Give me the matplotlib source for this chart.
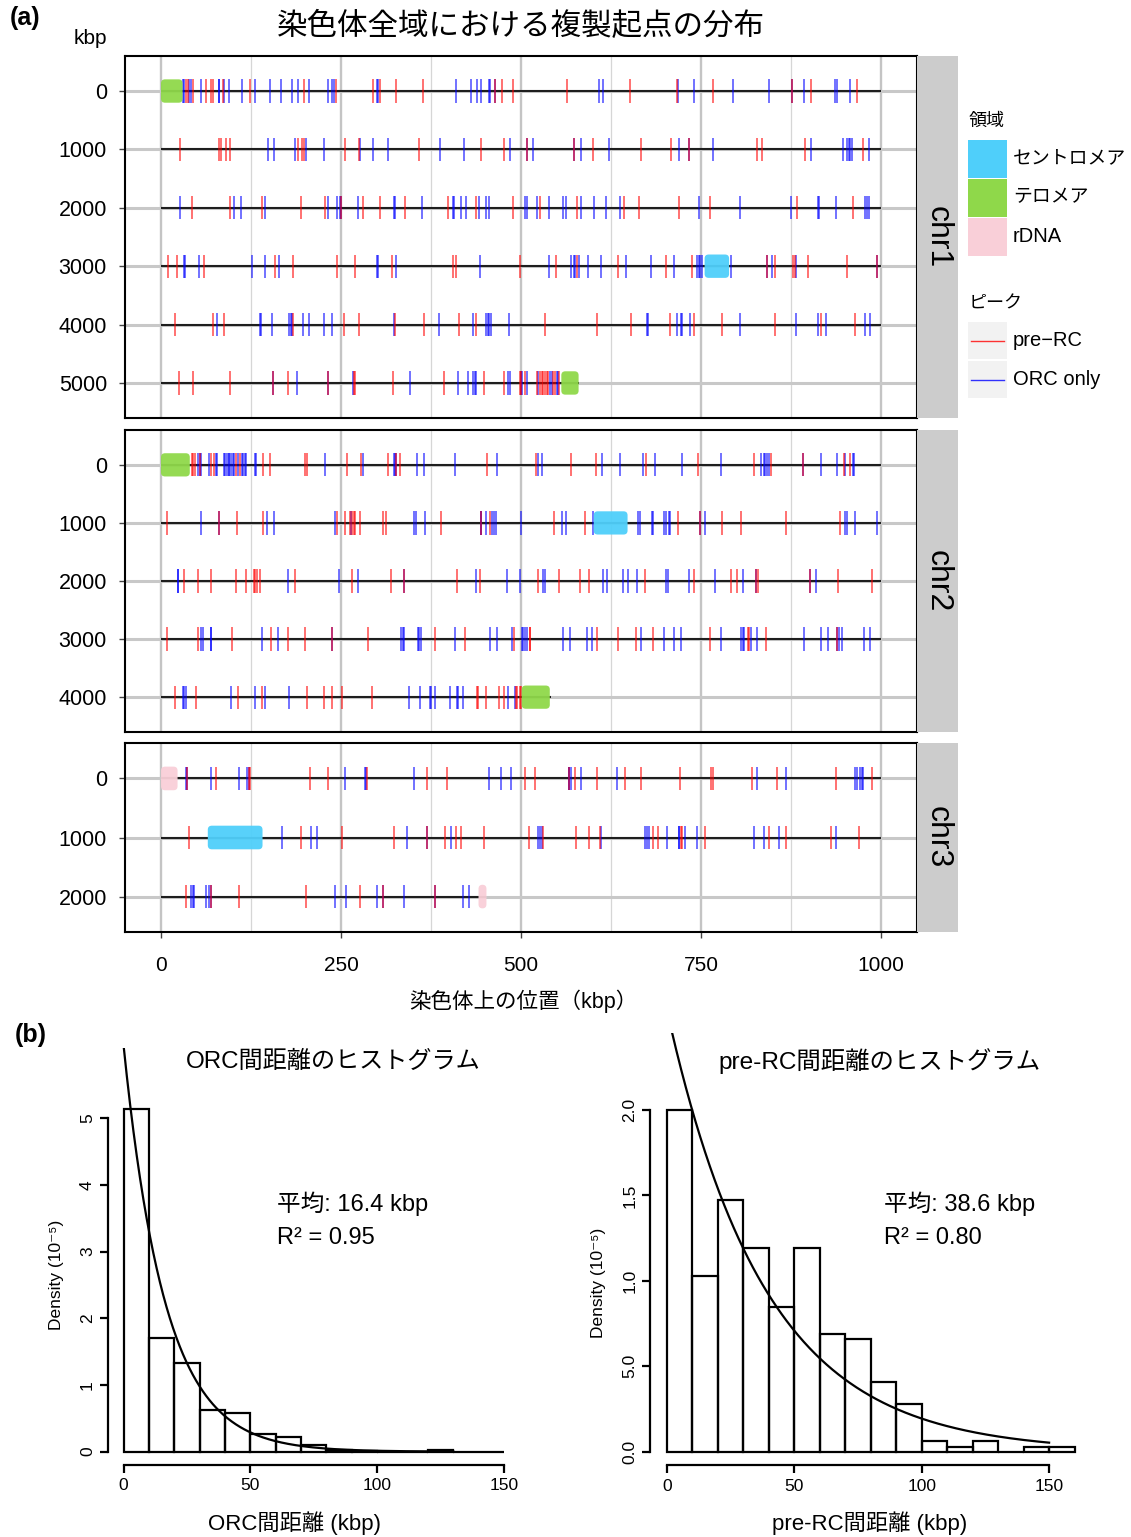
import numpy as np
import matplotlib
matplotlib.use('Agg')
import matplotlib.pyplot as plt
from matplotlib.patches import FancyBboxPatch, Rectangle

plt.rcParams['font.family'] = ['Liberation Sans', 'Noto Sans CJK JP', 'DejaVu Sans']

W, H = 1131, 1537

# ---------------- data (kbp) ----------------
chr_names = ['chr1', 'chr2', 'chr3']
chr_len = [5580, 4541, 2452]

chr1_prerc = [35, 37, 44, 62, 70, 72, 86, 124, 199, 243, 294, 304, 326, 364, 464, 473, 489, 564, 651,
              716, 766, 876, 903, 966,
              1027, 1080, 1083, 1090, 1096, 1190, 1196, 1199, 1255, 1275, 1359, 1444, 1476, 1508, 1573,
              1600, 1666, 1709, 1734, 1828, 1835, 1895, 1975,
              2043, 2096, 2140, 2194, 2228, 2250, 2280, 2304, 2339, 2398, 2438, 2489, 2526, 2578, 2643,
              2664, 2720, 2763, 2883, 2961,
              3010, 3022, 3060, 3158, 3184, 3245, 3269, 3321, 3405, 3410, 3498, 3549, 3578, 3635, 3701,
              3737, 3842, 3853, 3878, 3880, 3899, 3953, 3994,
              4019, 4072, 4088, 4183, 4254, 4275, 4325, 4365, 4414, 4438, 4533, 4605, 4653, 4707, 4740,
              4779, 4853, 4917, 4964,
              5025, 5045, 5096, 5156, 5177, 5232, 5268, 5269, 5322, 5393, 5448, 5476, 5498, 5500, 5506,
              5522, 5527, 5529, 5531, 5533, 5536, 5538, 5545, 5547, 5553]
chr1_orc = [30, 32, 39, 42, 56, 80, 81, 88, 95, 113, 130, 151, 166, 182, 190, 206, 232, 238, 240, 300,
            302, 410, 431, 439, 445, 455, 457, 464, 608, 614, 718, 740, 794, 844, 876, 893, 936, 939, 957,
            1148, 1157, 1186, 1201, 1226, 1276, 1294, 1315, 1387, 1421, 1485, 1509, 1517, 1574, 1583,
            1622, 1719, 1734, 1766, 1903, 1947, 1953, 1955, 1957, 1960, 1983,
            2026, 2102, 2111, 2144, 2232, 2244, 2248, 2250, 2273, 2323, 2325, 2362, 2405, 2407, 2416,
            2424, 2441, 2451, 2456, 2506, 2508, 2522, 2539, 2559, 2563, 2584, 2602, 2618, 2638, 2747,
            2804, 2875, 2912, 2914, 2938, 2978, 2981, 2983,
            3032, 3033, 3053, 3127, 3144, 3164, 3300, 3302, 3326, 3443, 3539, 3570, 3573, 3575, 3580,
            3593, 3611, 3646, 3681, 3712, 3744, 3747, 3749, 3751, 3791, 3842, 3849, 3882, 3995,
            4078, 4137, 4139, 4154, 4178, 4180, 4182, 4197, 4205, 4227, 4238, 4323, 4386, 4434, 4451,
            4454, 4456, 4458, 4483, 4675, 4677, 4716, 4722, 4723, 4735, 4804, 4882, 4912, 4924, 4978, 4985,
            5156, 5189, 5232, 5267, 5346, 5413, 5427, 5434, 5436, 5438, 5482, 5485, 5500, 5502, 5509,
            5524, 5540, 5543, 5550, 5552]

chr2_prerc = [43, 45, 47, 54, 69, 74, 104, 110, 141, 151, 200, 203, 258, 278, 315, 326, 332, 453, 521,
              570, 604, 674, 746, 823, 847, 891, 949, 957,
              1008, 1081, 1106, 1141, 1244, 1255, 1262, 1265, 1268, 1269, 1277, 1309, 1313, 1389, 1445,
              1457, 1546, 1589, 1718, 1749, 1779, 1806, 1868, 1943,
              2032, 2052, 2070, 2104, 2118, 2129, 2131, 2133, 2138, 2186, 2265, 2319, 2338, 2411, 2443,
              2524, 2553, 2582, 2595, 2672, 2740, 2792, 2800, 2827, 2829, 2902, 2940, 2988,
              3008, 3052, 3098, 3153, 3176, 3200, 3237, 3287, 3380, 3422, 3490, 3512, 3513, 3606, 3635,
              3660, 3683, 3763, 3815, 3817, 3840, 3939,
              4020, 4049, 4107, 4140, 4203, 4226, 4237, 4252, 4293, 4439, 4440, 4452, 4469, 4477, 4493,
              4495, 4498, 4500]
chr2_orc = [52, 54, 56, 67, 76, 78, 87, 89, 92, 94, 95, 97, 100, 102, 107, 112, 114, 116, 118, 131, 132,
            228, 281, 323, 325, 326, 356, 365, 409, 467, 524, 529, 612, 638, 670, 686, 723, 778, 834, 837,
            839, 842, 844, 891, 916, 939, 950, 961, 963,
            1056, 1081, 1147, 1157, 1242, 1264, 1351, 1354, 1366, 1444, 1445, 1451, 1460, 1463, 1465,
            1500, 1557, 1562, 1600, 1663, 1665, 1682, 1684, 1698, 1701, 1705, 1707, 1749, 1755, 1950,
            1953, 1964, 1994,
            2023, 2024, 2177, 2247, 2274, 2338, 2438, 2481, 2498, 2531, 2533, 2614, 2620, 2641, 2648,
            2661, 2702, 2704, 2734, 2770, 2809, 2827, 2902, 2910,
            3056, 3058, 3069, 3070, 3140, 3162, 3237, 3333, 3336, 3338, 3357, 3359, 3361, 3408, 3457,
            3466, 3488, 3501, 3503, 3506, 3508, 3558, 3568, 3591, 3598, 3666, 3699, 3712, 3722, 3778,
            3805, 3808, 3810, 3820, 3828, 3893, 3917, 3927, 3939, 3941, 3946, 3976, 3985,
            4030, 4032, 4035, 4097, 4130, 4144, 4178, 4344, 4360, 4373, 4375, 4380, 4401, 4411, 4413,
            4420, 4482, 4491]

chr3_prerc = [36, 76, 122, 124, 207, 232, 286, 369, 397, 506, 520, 567, 575, 606, 644, 666, 721, 764,
              766, 821, 855, 938, 987,
              1039, 1194, 1252, 1323, 1369, 1395, 1410, 1417, 1448, 1511, 1531, 1577, 1595, 1610, 1684,
              1690, 1722, 1724, 1755, 1845, 1868, 1930, 1969,
              2035, 2069, 2108, 2201, 2276, 2308, 2381]
chr3_orc = [35, 36, 69, 108, 120, 122, 255, 283, 285, 351, 455, 472, 486, 566, 567, 569, 583, 634, 828,
            868, 964, 967, 971, 974, 975,
            1168, 1208, 1216, 1342, 1369, 1403, 1524, 1526, 1529, 1611, 1672, 1675, 1678, 1703, 1719,
            1720, 1728, 1744, 1823, 1838, 1859, 1937,
            2042, 2044, 2046, 2063, 2067, 2069, 2242, 2257, 2300, 2309, 2337, 2381, 2420, 2428]

prerc_sites = [chr1_prerc, chr2_prerc, chr3_prerc]
orc_sites = [chr1_orc, chr2_orc, chr3_orc]

region_chr = [0, 0, 0, 1, 1, 1, 2, 2, 2]
region_start = [0, 5556, 3755, 0, 4501, 1601, 0, 2441, 1065]
region_end = [30, 5580, 3789, 40, 4540, 1648, 23, 2452, 1141]
region_kind = ['テロメア', 'テロメア', 'セントロメア', 'テロメア', 'テロメア', 'セントロメア',
               'rDNA', 'rDNA', 'セントロメア']
region_labels = ['セントロメア', 'テロメア', 'rDNA']
region_colors = {'セントロメア': '#4fcffa', 'テロメア': '#8fd84a', 'rDNA': '#f9cfd8'}

# histograms (density, 10^-5 / bp), 10 kbp bins
orc_edges = np.arange(0, 160, 10)
orc_density = [5.14, 1.70, 1.325, 0.625, 0.585, 0.265, 0.215, 0.10, 0.02, 0.01, 0, 0, 0.02, 0, 0]
orc_mean, orc_r2 = 16.4, 0.95
prerc_edges = np.arange(0, 170, 10)
prerc_density = [2.0, 1.03, 1.475, 1.19, 0.85, 1.19, 0.69, 0.66, 0.41, 0.28, 0.06, 0.03, 0.06, 0,
                 0.03, 0.03]
prerc_mean, prerc_r2 = 38.6, 0.80


def fig_box(x0, y0, x1, y1):
    return [x0 / W, 1 - y1 / H, (x1 - x0) / W, (y1 - y0) / H]


fig = plt.figure(figsize=(W / 100, H / 100), dpi=100)

panel_px = [(125, 56, 917, 418), (125, 430, 917, 732), (125, 743, 917, 932)]

for i, name in enumerate(chr_names):
    length = chr_len[i]
    nrow = length // 1000 + 1
    x0, y0, x1, y1 = panel_px[i]
    ax = fig.add_axes(fig_box(x0, y0, x1, y1))
    ax.set_xlim(-50, 1050)
    ax.set_ylim(nrow - 1 + 0.6, -0.6)
    for gx in [125, 375, 625, 875]:
        ax.axvline(gx, color='#d6d6d6', lw=0.9, zorder=0)
    for gx in [0, 250, 500, 750, 1000]:
        ax.axvline(gx, color='#c4c4c4', lw=1.7, zorder=0)
    rows = np.arange(nrow)
    for r in rows:
        ax.axhline(r, color='#c8c8c8', lw=2.2, zorder=0)
    row_end = np.minimum(rows * 1000 + 1000, length) - rows * 1000
    ax.hlines(rows, 0, row_end, color='#1e1e1e', lw=1.5, zorder=1)

    orc = np.array(orc_sites[i])
    ax.vlines(orc % 1000, orc // 1000 - 0.2, orc // 1000 + 0.2, color='#0000ff', alpha=0.65,
              lw=1.2, zorder=2)
    pre = np.array(prerc_sites[i])
    ax.vlines(pre % 1000, pre // 1000 - 0.2, pre // 1000 + 0.2, color='#ff0000', alpha=0.65,
              lw=1.2, zorder=3)

    asp = (4.0 / 58.4) / 5.6
    for c, s, e, k in zip(region_chr, region_start, region_end, region_kind):
        if c != i:
            continue
        r = s // 1000
        box = FancyBboxPatch((s - r * 1000, r - 0.2), e - s, 0.4,
                             boxstyle='round,pad=0,rounding_size=5.6', mutation_aspect=asp,
                             facecolor=region_colors[k], edgecolor='none', alpha=0.95, zorder=4)
        ax.add_patch(box)

    ax.set_yticks(rows)
    ax.set_yticklabels([str(r * 1000) for r in rows])
    ax.tick_params(axis='y', length=4, width=1, color='#444444', labelsize=15.5, pad=9)
    if i == 2:
        ax.set_xticks([0, 250, 500, 750, 1000])
        ax.tick_params(axis='x', length=4, width=1, color='#444444', labelsize=15, pad=13)
    else:
        ax.set_xticks([])
    for sp in ax.spines.values():
        sp.set_linewidth(1.5)
        sp.set_color('black')

    ax_s = fig.add_axes(fig_box(917, y0, 958, y1))
    ax_s.set_facecolor('#cccccc')
    ax_s.set_xticks([])
    ax_s.set_yticks([])
    for sp in ax_s.spines.values():
        sp.set_visible(False)
    ax_s.text(0.5, 0.5, name, rotation=-90, fontsize=23, ha='center', va='center',
              transform=ax_s.transAxes)


def hist_panel(box, edges, dens, mean, r2, xlim, ylim, yticks, ylabels, xmax_curve, ann_xy):
    ax = fig.add_axes(box)
    ax.bar(edges[:-1], dens, width=10, align='edge', fill=False, edgecolor='black', lw=1.6)
    xs = np.linspace(0, xmax_curve, 400)
    ax.plot(xs, 100.0 / mean * np.exp(-xs / mean), color='black', lw=1.6)
    ax.set_xlim(*xlim)
    ax.set_ylim(*ylim)
    ax.spines['top'].set_visible(False)
    ax.spines['right'].set_visible(False)
    ax.spines['left'].set_bounds(yticks[0], yticks[-1])
    ax.spines['bottom'].set_bounds(0, 150)
    for sp in ['left', 'bottom']:
        ax.spines[sp].set_linewidth(1.6)
    ax.set_xticks([0, 50, 100, 150])
    ax.set_yticks(yticks)
    ax.set_yticklabels(ylabels, rotation=90, va='center')
    ax.tick_params(length=5.5, width=1.6, labelsize=12.5, pad=4)
    ax.patch.set_alpha(0)
    ax.text(ann_xy[0], ann_xy[1], f'平均: {mean} kbp', fontsize=17, ha='left', va='center')
    ax.text(ann_xy[0], ann_xy[2], f'R² = {r2:.2f}', fontsize=17, ha='left', va='center')
    return ax


hist_panel(fig_box(108.3, 1048.2, 519.3, 1465), orc_edges, orc_density, orc_mean, orc_r2,
           (-6, 156), (-0.2, 6.05), [0, 1, 2, 3, 4, 5], ['0', '1', '2', '3', '4', '5'], 130,
           (60.5, 3.71, 3.2))
hist_panel(fig_box(650.4, 1033.2, 1090.9, 1465.4), prerc_edges, prerc_density, prerc_mean,
           prerc_r2, (-6.4, 166.4), (-0.08, 2.45), [0, 0.5, 1.0, 1.5, 2.0],
           ['0.0', '5.0', '1.0', '1.5', '2.0'], 150, (85.2, 1.45, 1.25))

# ---------------- free text and legend (pixel coordinates) ----------------
ov = fig.add_axes([0, 0, 1, 1], zorder=10)
ov.set_xlim(0, W)
ov.set_ylim(H, 0)
ov.axis('off')
ov.patch.set_alpha(0)

ov.text(10, 18, '(a)', fontsize=18, fontweight='bold', ha='left', va='center')
ov.text(521, 27, '染色体全域における複製起点の分布', fontsize=22, ha='center', va='center')
ov.text(90, 39, 'kbp', fontsize=15, ha='center', va='center')
ov.text(523, 1001, '染色体上の位置（kbp）', fontsize=15.5, ha='center', va='center')
ov.text(15, 1035, '(b)', fontsize=18, fontweight='bold', ha='left', va='center')
ov.text(333, 1062, 'ORC間距離のヒストグラム', fontsize=17.4, ha='center', va='center')
ov.text(880, 1061, 'pre-RC間距離のヒストグラム', fontsize=17.6, ha='center', va='center')
ov.text(294, 1523, 'ORC間距離 (kbp)', fontsize=16, ha='center', va='center')
ov.text(870, 1523, 'pre-RC間距離 (kbp)', fontsize=16, ha='center', va='center')
ov.text(57, 1275, 'Density (10⁻⁵)', fontsize=12.5, rotation=90, ha='center', va='center')
ov.text(599, 1283, 'Density (10⁻⁵)', fontsize=12.5, rotation=90, ha='center', va='center')

# legend: regions
ov.text(969, 121, '領域', fontsize=13, ha='left', va='center')
key_y = [140, 179, 218]
for ky, lab in zip(key_y, region_labels):
    ov.add_patch(Rectangle((968, ky), 39, 38, facecolor='#f2f2f2', edgecolor='none'))
    ov.add_patch(Rectangle((968, ky), 39, 38, facecolor=region_colors[lab], edgecolor='none'))
    ov.text(1013, ky + 19, lab, fontsize=13.6 if lab != 'rDNA' else 14.5, ha='left', va='center')

# legend: peaks
ov.text(969, 304, 'ピーク', fontsize=13, ha='left', va='center')
peak_labels = ['pre−RC', 'ORC only']
peak_colors = ['#ff0000', '#0000ff']
for ky, lab, col in zip([322, 361], peak_labels, peak_colors):
    ov.add_patch(Rectangle((968, ky), 39, 37, facecolor='#f2f2f2', edgecolor='none'))
    ov.plot([971, 1004], [ky + 18.5, ky + 18.5], color=col, lw=1.0, alpha=0.8)
    ov.text(1013, ky + 18.5, lab, fontsize=14.5, ha='left', va='center')

fig.savefig('out.png', dpi=100)
